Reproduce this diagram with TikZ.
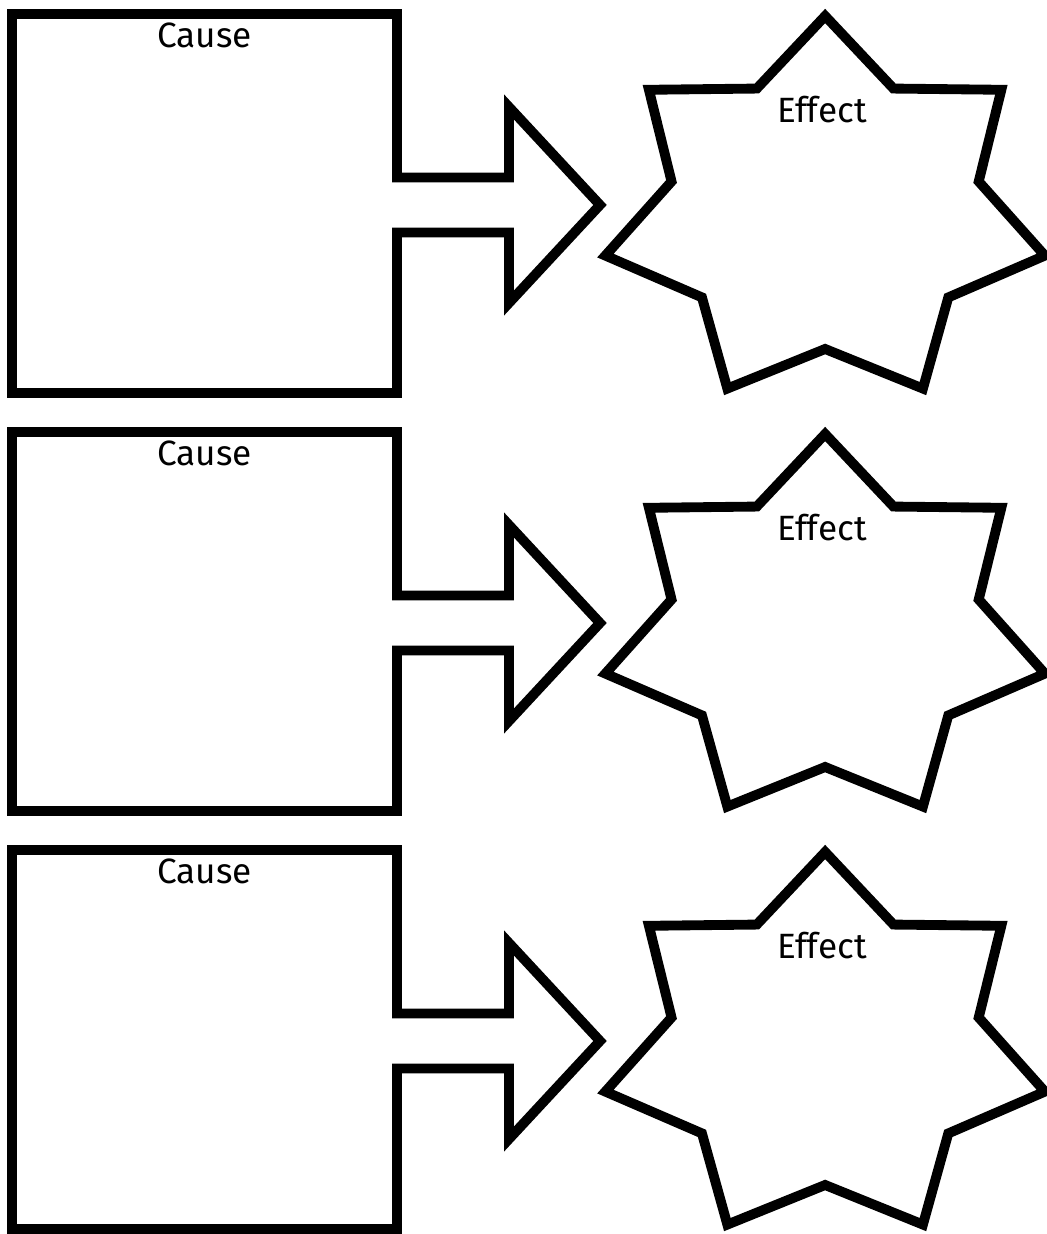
\documentclass[tikz,border=0pt]{standalone}
\usepackage{fontspec}
\setsansfont{Fira Sans}[Ligatures=NoCommon]
\usepackage{tikz}
\usetikzlibrary{positioning}
\tikzset{
  outline/.style={draw=black, line width=5.6pt, line join=miter},
  effectstar/.style={outline, xscale=1.15},
  heading/.style={font=\sffamily\fontsize{20}{24}\selectfont, text=black, inner sep=0pt},
}

\begin{document}
\begin{tikzpicture}
  \useasboundingbox (0,0) rectangle (20.92,24.68);

  % Cause boxes with arrows
  \draw[outline] (0.24,24.40) -- (7.94,24.40) -- (7.94,21.13) -- (10.18,21.13) -- (10.18,22.54) -- (12.00,20.58) -- (10.18,18.62) -- (10.18,20.03) -- (7.94,20.03) -- (7.94,16.82) -- (0.24,16.82) -- cycle;
  \draw[outline] (0.24,16.04) -- (7.94,16.04) -- (7.94,12.77) -- (10.18,12.77) -- (10.18,14.18) -- (12.00,12.22) -- (10.18,10.26) -- (10.18,11.67) -- (7.94,11.67) -- (7.94,8.46) -- (0.24,8.46) -- cycle;
  \draw[outline] (0.24,7.68) -- (7.94,7.68) -- (7.94,4.41) -- (10.18,4.41) -- (10.18,5.82) -- (12.00,3.86) -- (10.18,1.90) -- (10.18,3.31) -- (7.94,3.31) -- (7.94,0.10) -- (0.24,0.10) -- cycle;
  \node[heading] (C1) at (4.09,23.98) {Cause};
  \node[heading] (C2) at (4.09,15.62) {Cause};
  \node[heading] (C3) at (4.09,7.26) {Cause};

  % Effect stars
  \coordinate (E1) at (16.50,20.44);
  \coordinate (E2) at (16.50,12.08);
  \coordinate (E3) at (16.50,3.72);
  \draw[effectstar, shift={(E1)}] (64.29:2.74) \foreach \k in {0,...,5} { -- ({90+\k*360/7}:3.92) -- ({115.71+\k*360/7}:2.74) } -- ({90+6*360/7}:3.92) -- cycle;
  \draw[effectstar, shift={(E2)}] (64.29:2.74) \foreach \k in {0,...,5} { -- ({90+\k*360/7}:3.92) -- ({115.71+\k*360/7}:2.74) } -- ({90+6*360/7}:3.92) -- cycle;
  \draw[effectstar, shift={(E3)}] (64.29:2.74) \foreach \k in {0,...,5} { -- ({90+\k*360/7}:3.92) -- ({115.71+\k*360/7}:2.74) } -- ({90+6*360/7}:3.92) -- cycle;
  \node[heading] (T1) at (16.44,22.48) {Effect};
  \node[heading] (T2) at (16.44,14.12) {Effect};
  \node[heading] (T3) at (16.44,5.76) {Effect};
\end{tikzpicture}
\end{document}
